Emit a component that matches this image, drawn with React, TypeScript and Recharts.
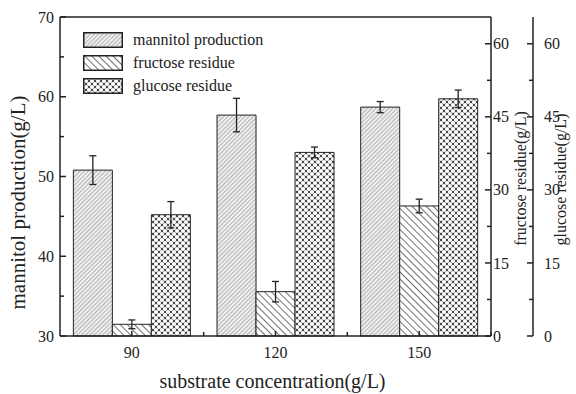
import React from 'react'
import { BarChart, Bar, XAxis, YAxis, ErrorBar, Legend, ReferenceLine, Label } from 'recharts'

const categories = ['90', '120', '150']
const mannitol = [50.8, 57.7, 58.7]
const mannitolErr = [1.8, 2.1, 0.7]
const fructose = [2.4, 9.1, 26.7]
const fructoseErr = [0.9, 2.1, 1.4]
const glucose = [24.9, 37.7, 48.7]
const glucoseErr = [2.7, 1.1, 1.8]

const seriesNames = ['mannitol production', 'fructose residue', 'glucose residue']

const leftTicks = [30, 35, 40, 45, 50, 55, 60, 65, 70]
const leftLabels = [30, 40, 50, 60, 70]
const rightTicks = [0, 7.5, 15, 22.5, 30, 37.5, 45, 52.5, 60]
const rightLabels = [0, 15, 30, 45, 60]

const FONT = '"Liberation Serif", "Times New Roman", serif'
const INK = '#222'

const data = categories.map((conc, i) => ({
  conc,
  mannitol: mannitol[i],
  mannitolErr: mannitolErr[i],
  fructose: fructose[i],
  fructoseErr: fructoseErr[i],
  glucose: glucose[i],
  glucoseErr: glucoseErr[i],
}))

// y ticks point into the plot; only the major ones get a number
function makeYTick(side: 'left' | 'right', margin: number, labels: number[]) {
  return (props: any) => {
    const { x, y, payload } = props
    const axisX = side === 'left' ? x + margin : x - margin
    const major = labels.includes(payload.value)
    const len = major ? 6 : 4
    const x2 = side === 'left' ? axisX + len : axisX - len
    return (
      <g>
        <line x1={axisX} y1={y} x2={x2} y2={y} stroke={INK} strokeWidth={1.5} />
        {major && (
          <text
            x={x}
            y={y}
            dy="0.35em"
            textAnchor={side === 'left' ? 'end' : 'start'}
            fontSize={16}
            fontFamily={FONT}
            fill={INK}
          >
            {payload.value}
          </text>
        )}
      </g>
    )
  }
}

const X_MARGIN = 11

const XTick = (props: any) => {
  const { x, y, payload, width, visibleTicksCount } = props
  const axisY = y - X_MARGIN
  const band = (width || 431) / (visibleTicksCount || 3)
  return (
    <g>
      <line x1={x} y1={axisY} x2={x} y2={axisY - 5} stroke={INK} strokeWidth={1.5} />
      <line x1={x + band / 2} y1={axisY} x2={x + band / 2} y2={axisY - 4} stroke={INK} strokeWidth={1.5} />
      <text x={x} y={y} dy="0.71em" textAnchor="middle" fontSize={16} fontFamily={FONT} fill={INK}>
        {payload.value}
      </text>
    </g>
  )
}

const yTitle = (text: string, dx: number, dy: number, size: number) => (props: any) => {
  const { x, y, height } = props.viewBox
  const cx = x + dx
  const cy = y + height / 2 + dy
  return (
    <text
      x={cx}
      y={cy}
      transform={`rotate(-90, ${cx}, ${cy})`}
      textAnchor="middle"
      dominantBaseline="central"
      fontSize={size}
      fontFamily={FONT}
      fill={INK}
    >
      {text}
    </text>
  )
}

const xTitle = (props: any) => {
  const { x, y, width } = props.viewBox
  return (
    <text
      x={x + width / 2 - 3}
      y={y + 45}
      textAnchor="middle"
      dominantBaseline="central"
      fontSize={20}
      fontFamily={FONT}
      fill={INK}
    >
      substrate concentration(g/L)
    </text>
  )
}

const LegendBox = (props: any) => {
  const items = [...(props.payload || [])].sort(
    (a: any, b: any) => seriesNames.indexOf(a.value) - seriesNames.indexOf(b.value)
  )
  return (
    <div style={{ fontFamily: FONT, fontSize: 16, color: INK }}>
      {items.map((entry: any) => (
        <div key={entry.value} style={{ display: 'flex', alignItems: 'center', height: 23 }}>
          <svg width={40} height={16} style={{ display: 'block' }}>
            <rect x={0.75} y={0.75} width={38.5} height={14.5} fill={entry.color} stroke={INK} strokeWidth={1.5} />
          </svg>
          <span style={{ marginLeft: 10, lineHeight: '16px' }}>{entry.value}</span>
        </div>
      ))}
    </div>
  )
}

export default function App() {
  return (
    <div style={{ position: 'absolute', left: 0, top: 0, background: '#fff' }}>
      <BarChart
        width={576}
        height={394}
        data={data}
        margin={{ top: 17, right: 0, bottom: 0, left: 0 }}
        barCategoryGap="9.3%"
        barGap={0}
      >
        <defs>
          <pattern id="hatchMan" width={3} height={3} patternUnits="userSpaceOnUse" patternTransform="rotate(45)">
            <rect width={3} height={3} fill="#efefef" />
            <line x1={0} y1={0} x2={0} y2={3} stroke="#777" strokeWidth={1} />
          </pattern>
          <pattern id="hatchFru" width={5} height={5} patternUnits="userSpaceOnUse" patternTransform="rotate(-45)">
            <rect width={5} height={5} fill="#fff" />
            <line x1={0} y1={0} x2={0} y2={5} stroke="#333" strokeWidth={1.4} />
          </pattern>
          <pattern id="hatchGlu" width={6} height={6} patternUnits="userSpaceOnUse">
            <rect width={6} height={6} fill="#444" />
            <circle cx={3} cy={3} r={2.1} fill="#fff" />
            <circle cx={0} cy={0} r={2.1} fill="#fff" />
            <circle cx={6} cy={0} r={2.1} fill="#fff" />
            <circle cx={0} cy={6} r={2.1} fill="#fff" />
            <circle cx={6} cy={6} r={2.1} fill="#fff" />
          </pattern>
        </defs>
        <XAxis
          dataKey="conc"
          height={58}
          tickSize={0}
          tickMargin={X_MARGIN}
          tickLine={false}
          axisLine={{ stroke: INK, strokeWidth: 1.5 }}
          tick={XTick}
          interval={0}
        >
          <Label content={xTitle} />
        </XAxis>
        <YAxis
          yAxisId="left"
          domain={[30, 70]}
          ticks={leftTicks}
          interval={0}
          width={60}
          tickSize={0}
          tickMargin={6}
          tickLine={false}
          axisLine={{ stroke: INK, strokeWidth: 1.5 }}
          tick={makeYTick('left', 6, leftLabels)}
        >
          <Label content={yTitle('mannitol production(g/L)', 18, 26, 21)} />
        </YAxis>
        <YAxis
          yAxisId="fr"
          orientation="right"
          domain={[0, 65.5]}
          ticks={rightTicks}
          interval={0}
          width={42}
          tickSize={0}
          tickMargin={2}
          tickLine={false}
          axisLine={{ stroke: INK, strokeWidth: 1.5 }}
          tick={makeYTick('right', 2, rightLabels)}
        >
          <Label content={yTitle('fructose residue(g/L)', 29, 2, 16)} />
        </YAxis>
        <YAxis
          yAxisId="gl"
          orientation="right"
          domain={[0, 65.5]}
          ticks={rightTicks}
          interval={0}
          width={43}
          tickSize={0}
          tickMargin={11}
          tickLine={false}
          axisLine={{ stroke: INK, strokeWidth: 1.5 }}
          tick={makeYTick('right', 11, rightLabels)}
        >
          <Label content={yTitle('glucose residue(g/L)', 27, 3, 16)} />
        </YAxis>
        <ReferenceLine yAxisId="left" y={70} stroke={INK} strokeWidth={1.5} />
        <Legend
          layout="vertical"
          align="center"
          verticalAlign="middle"
          content={LegendBox}
          wrapperStyle={{ left: 83, top: 28, width: 'auto', height: 'auto' }}
        />
        <Bar yAxisId="left" dataKey="mannitol" name={seriesNames[0]} fill="url(#hatchMan)" stroke={INK} strokeWidth={1} isAnimationActive={false}>
          <ErrorBar dataKey="mannitolErr" width={3.5} stroke={INK} strokeWidth={1.3} />
        </Bar>
        <Bar yAxisId="fr" dataKey="fructose" name={seriesNames[1]} fill="url(#hatchFru)" stroke={INK} strokeWidth={1} isAnimationActive={false}>
          <ErrorBar dataKey="fructoseErr" width={3.5} stroke={INK} strokeWidth={1.3} />
        </Bar>
        <Bar yAxisId="gl" dataKey="glucose" name={seriesNames[2]} fill="url(#hatchGlu)" stroke={INK} strokeWidth={1} isAnimationActive={false}>
          <ErrorBar dataKey="glucoseErr" width={3.5} stroke={INK} strokeWidth={1.3} />
        </Bar>
      </BarChart>
    </div>
  )
}
